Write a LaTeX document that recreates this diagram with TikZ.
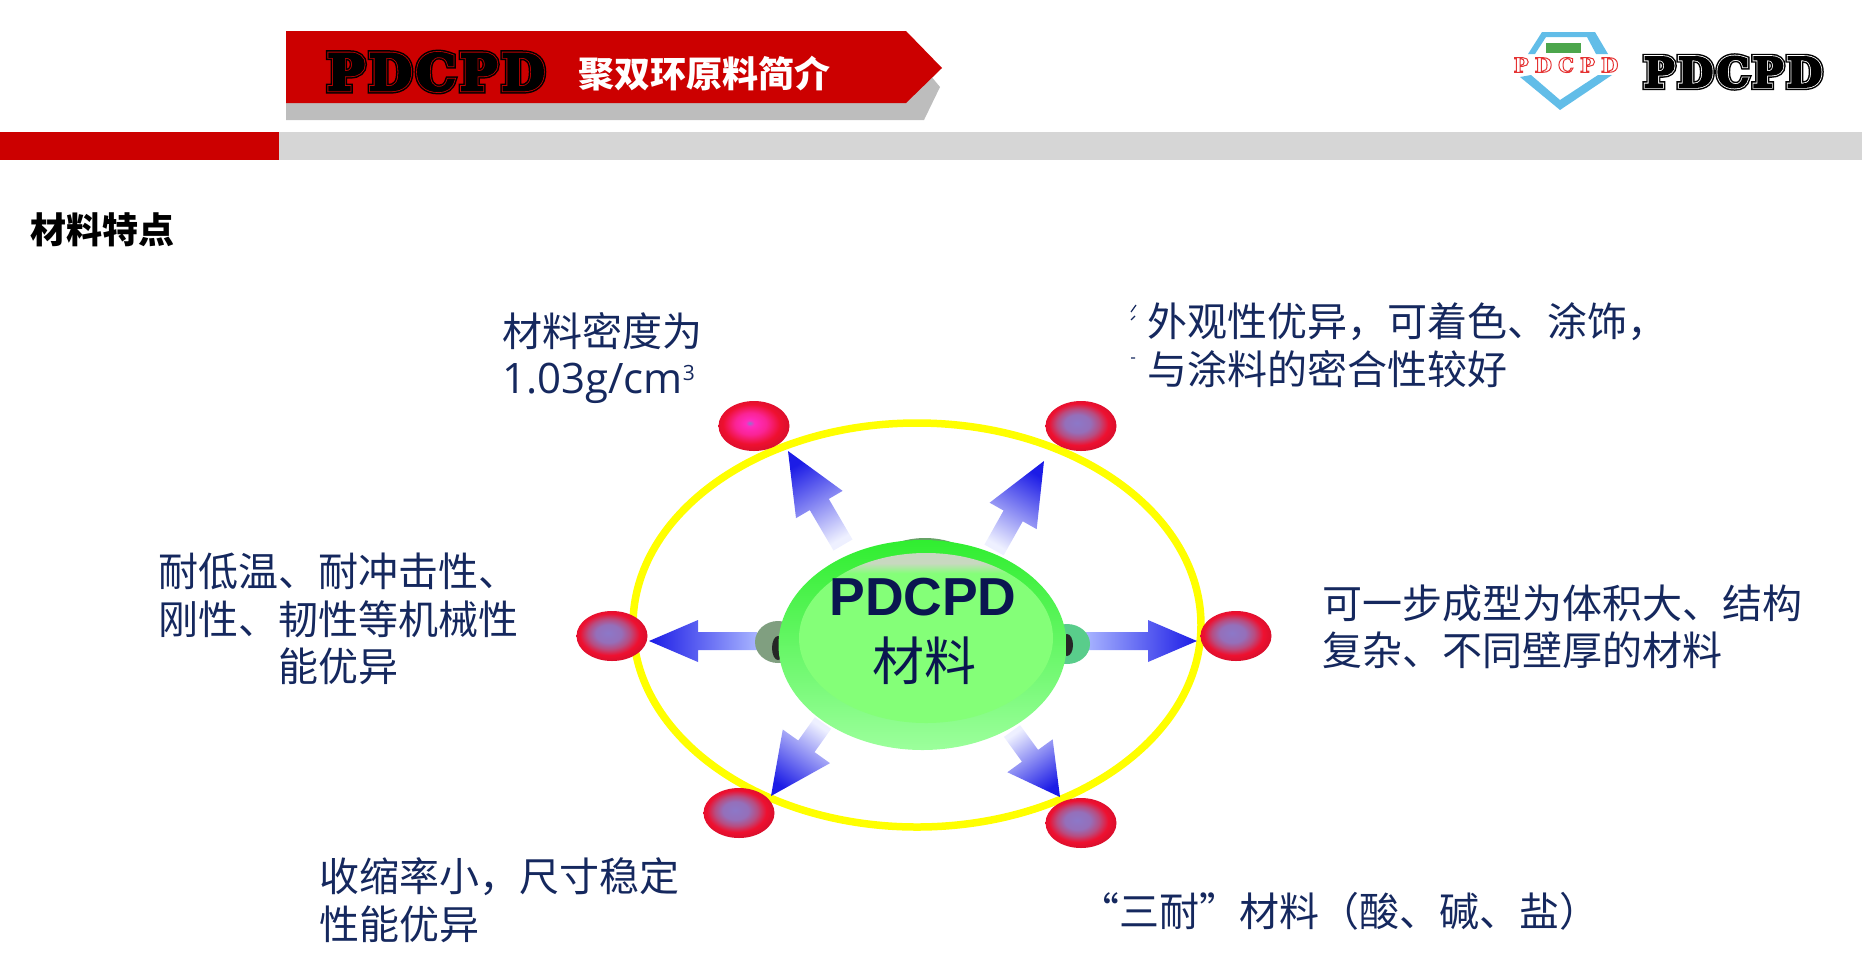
\documentclass[tikz,border=0pt]{standalone}
\usepackage{fontspec}
\usetikzlibrary{calc,shapes.geometric}
\newfontfamily\cjkfont{Noto Sans CJK SC}
\newfontfamily\latinfont{Open Sans}
\newfontfamily\slabfont[LetterSpace=8]{DejaVu Serif Bold}
\newfontfamily\slabthinfont[LetterSpace=30]{DejaVu Serif Bold}
\newfontfamily\corefont{Liberation Sans Bold}
\definecolor{bannerred}{HTML}{CC0000}
\definecolor{stripgray}{HTML}{D6D6D6}
\definecolor{shadowgray}{HTML}{BDBDBD}
\definecolor{navytext}{HTML}{15285E}
\definecolor{corenavy}{HTML}{0A1650}
\definecolor{ringyellow}{HTML}{FFFF00}
\definecolor{arrowblue}{HTML}{1C1CE6}
\definecolor{arrowmid}{HTML}{5A64F2}
\definecolor{arrowpale}{HTML}{EEF0FF}
\definecolor{arrowlight}{HTML}{A8B4FF}
\definecolor{ballcore}{HTML}{8C78C8}
\definecolor{ballmid}{HTML}{B84C80}
\definecolor{ballrim}{HTML}{EE1030}
\definecolor{ballpink}{HTML}{FF2CC0}
\definecolor{shieldblue}{HTML}{62BDE8}
\definecolor{corerim}{HTML}{30EE30}
\definecolor{corelow}{HTML}{9CFF9C}
\definecolor{coremain}{HTML}{84FF78}
\definecolor{coreband}{HTML}{C8D8C0}
\pgfdeclareradialshading{redballshade}{\pgfpoint{-3bp}{3bp}}{color(0bp)=(ballcore); color(9bp)=(ballcore!80!ballmid); color(15bp)=(ballmid); color(21bp)=(ballrim); color(26bp)=(ballrim!92!black); color(50bp)=(ballrim!92!black)}
\pgfdeclareradialshading{pinkballshade}{\pgfpoint{-3bp}{3bp}}{color(0bp)=(ballcore); color(3bp)=(ballpink); color(11bp)=(ballpink!70!ballrim); color(20bp)=(ballrim); color(26bp)=(ballrim!92!black); color(50bp)=(ballrim!92!black)}
\pgfdeclareverticalshading{coreglow}{100bp}{color(0bp)=(coremain); color(25bp)=(coremain); color(69bp)=(coremain); color(72bp)=(coreband); color(75bp)=(coreband); color(100bp)=(coreband)}
\tikzset{
  bodytext/.style={text=navytext,font=\cjkfont\fontsize{40}{47.5}\selectfont,inner sep=0pt},
  redball/.style={ellipse,draw=none,minimum width=71pt,minimum height=50pt,inner sep=0pt,shading=redballshade},
  pinkball/.style={redball,shading=pinkballshade},
  blockfill/.style={draw=none,bottom color=arrowpale,middle color=arrowmid,top color=arrowblue},
}
% stroke colour (r g b), stroke width, text
\newcommand{\strokedtext}[3]{\special{pdf:code q #1 RG #2 w 2 Tr}#3\special{pdf:code Q}}
% tail, tip, head length, head half width, shaft half width, shading angle
\newcommand{\blockarrow}[6]{
  \shade[blockfill,shading angle=#6] (#2)
    -- ($(#2)!#3pt!(#1)!#4pt!90:(#1)$)
    -- ($(#2)!#3pt!(#1)!#5pt!90:(#1)$)
    -- ($(#1)!#5pt!-90:(#2)$)
    -- ($(#1)!#5pt!90:(#2)$)
    -- ($(#2)!#3pt!(#1)!#5pt!-90:(#1)$)
    -- ($(#2)!#3pt!(#1)!#4pt!-90:(#1)$)
    -- cycle;
}
\begin{document}
\begin{tikzpicture}[x=1pt,y=-1pt]
  \useasboundingbox (0,0) rectangle (1862,978);
  % header
  \fill[shadowgray] (286,46) -- (906,46) -- (940,87) -- (924,120) -- (286,120) -- cycle;
  \fill[bannerred] (286,31) -- (906,31) -- (942,68) -- (906,103) -- (286,103) -- cycle;
  \fill[bannerred] (0,132) rectangle (279,160);
  \fill[stripgray] (279,132) rectangle (1862,160);
  \node[anchor=center,inner sep=0pt,font=\slabfont\fontsize{50}{50}\selectfont] (bannerName) at (436,72) {\rlap{\strokedtext{0 0 0}{7}{PDCPD}}\rlap{\strokedtext{0.75 0 0}{4}{PDCPD}}\strokedtext{0 0 0}{2.4}{PDCPD}};
  \node[anchor=west,inner sep=0pt,text=white,font=\cjkfont\bfseries\fontsize{36}{36}\selectfont] (bannerTitle) at (578,74) {聚双环原料简介};
  % logo
  \fill[shieldblue] (1528,54) -- (1542,32) -- (1595,32) -- (1608,54) -- (1596,54) -- (1587,37) -- (1546,37) -- (1535,54) -- cycle;
  \fill[shieldblue] (1520,77) -- (1560,110) -- (1612,75) -- (1598,75) -- (1560,100) -- (1531,75) -- cycle;
  \fill[green!50!black!70] (1546,43) rectangle (1581,53);
  \node[inner sep=0pt,text=white,font=\slabthinfont\fontsize{20}{20}\selectfont] (logoMark) at (1566,65) {\strokedtext{0.9 0.2 0.2}{1}{PDCPD}};
  \node[inner sep=0pt,font=\slabfont\fontsize{41}{41}\selectfont] (logoName) at (1733,72) {\rlap{\strokedtext{0 0 0}{6.5}{PDCPD}}\rlap{\strokedtext{1 1 1}{3.6}{PDCPD}}\strokedtext{0 0 0}{2}{PDCPD}};
  \node[anchor=west,inner sep=0pt,text=black,font=\cjkfont\bfseries\fontsize{36}{36}\selectfont] (sectionTitle) at (30,230) {材料特点};
  % ring and balls
  \draw[ringyellow,line width=7.5pt] (917,625) ellipse (284pt and 202pt);
  \node[pinkball] (ballDensity) at (754,426) {};
  \node[redball] (ballLook) at (1081,426) {};
  \node[redball] (ballLeft) at (612,636) {};
  \node[redball] (ballRight) at (1236,636) {};
  \node[redball] (ballShrink) at (739,813) {};
  \node[redball] (ballResist) at (1081,823) {};
  % arrows
  \coordinate (tailA) at (843,545); \coordinate (tipA) at (788,451);
  \coordinate (tailB) at (994,550); \coordinate (tipB) at (1044,461);
  \coordinate (tailC) at (757,641); \coordinate (tipC) at (649,641);
  \coordinate (tailD) at (1086,641); \coordinate (tipD) at (1197,641);
  \coordinate (tailE) at (823,723); \coordinate (tipE) at (771,796);
  \coordinate (tailF) at (1012,731); \coordinate (tipF) at (1060,797);
  \blockarrow{tailA}{tipA}{62}{27}{11}{30}
  \blockarrow{tailB}{tipB}{63}{27}{11}{-30}
  {\colorlet{arrowpale}{arrowlight}
  \blockarrow{tailC}{tipC}{49}{21}{9}{90}
  \blockarrow{tailD}{tipD}{49}{21}{9}{-90}}
  \blockarrow{tailE}{tipE}{61}{29}{10}{145}
  \blockarrow{tailF}{tipF}{51}{28}{10}{-145}
  % centre ball
  \fill[green!25!black!50] (778,642) ellipse (23pt and 21pt);
  \fill[black!85] (778,648) ellipse (6pt and 12pt);
  \fill[teal!60!green!65] (1067,644) ellipse (23pt and 20pt);
  \fill[black!85] (1067,645) ellipse (6pt and 11pt);
  \fill[black!60!green!60!white] (925,642) ellipse (95pt and 104pt);
  \shade[top color=corerim,bottom color=corelow] (922.5,645) ellipse (144pt and 105pt);
  \shade[shading=coreglow] (926,638) ellipse (127pt and 85pt);
  \node[inner sep=0pt,text=corenavy,font=\corefont\fontsize{53.5}{53.5}\selectfont] (coreName) at (923,597) {PDCPD};
  \node[inner sep=0pt,text=corenavy,font=\cjkfont\fontsize{52}{52}\selectfont] (coreWord) at (924,661) {材料};
  % texts
  \node[bodytext,anchor=west,align=left] (textDensity) at (502,358) {材料密度为\\{\latinfont\fontsize{42}{47.5}\selectfont 1.03g/cm\raisebox{13pt}{\fontsize{21}{21}\selectfont 3}}};
  \node[bodytext,anchor=west,align=left] (textLook) at (1147,345) {外观性优异，可着色、涂饰，\\与涂料的密合性较好};
  \node[bodytext,anchor=west,align=center] (textLeft) at (158,619) {耐低温、耐冲击性、\\刚性、韧性等机械性\\能优异};
  \node[bodytext,anchor=west,align=left] (textRight) at (1322,627) {可一步成型为体积大、结构\\复杂、不同壁厚的材料};
  \node[bodytext,anchor=west,align=left] (textShrink) at (319,900) {收缩率小，尺寸稳定\\性能优异};
  \node[bodytext,anchor=west] (textResist) at (1079,911) {“三耐”材料（酸、碱、盐）};
  % stray marks at the left of the upper right text
  \draw[navytext,line width=1.2pt] (1131,312) -- (1136,305) (1131,320) -- (1135,316) (1131,358) -- (1135,358);
\end{tikzpicture}
\end{document}
